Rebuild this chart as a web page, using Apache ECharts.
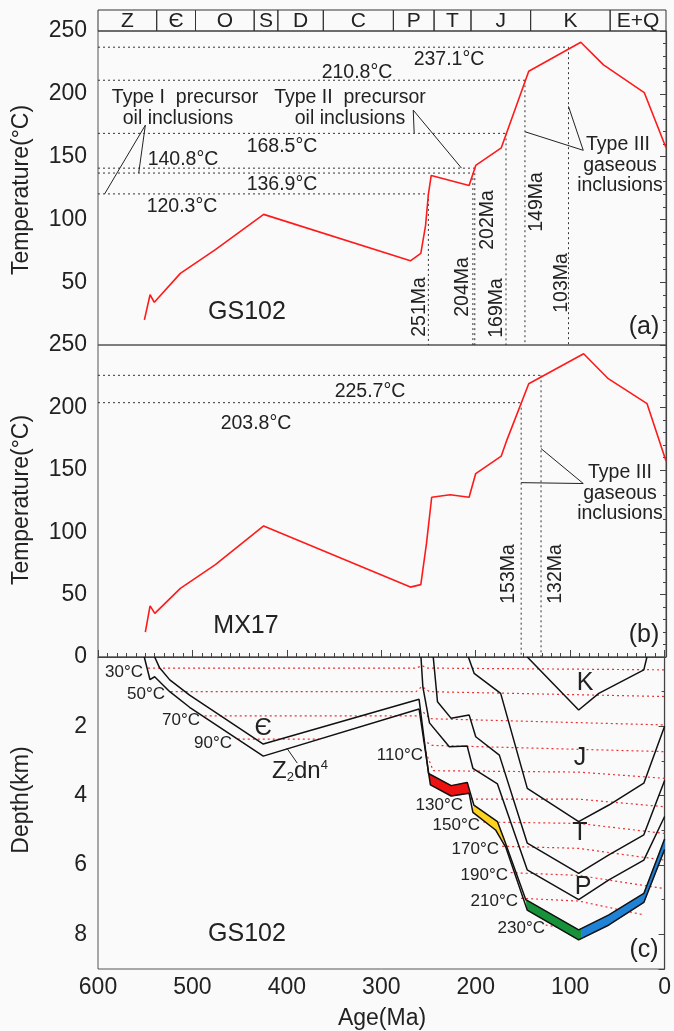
<!DOCTYPE html>
<html><head><meta charset="utf-8">
<script src="https://cdn.jsdelivr.net/npm/echarts@6/dist/echarts.min.js"></script>
<style>html,body{margin:0;padding:0;background:#fafafa}#c{width:674px;height:1031px}</style>
</head><body><div id="c"></div>
<script>
// ---------- DATA ----------
const periodBounds = [600, 538, 497, 435, 410, 362, 288, 245, 206, 143, 59, 0];
const periodNames = ['Z', 'Є', 'O', 'S', 'D', 'C', 'P', 'T', 'J', 'K', 'E+Q'];

// (a) GS102 thermal history
const ageA = [551, 545, 540.5, 513, 476, 425, 270, 259, 254, 251, 248, 208, 201, 174, 145, 90, 66, 23, 0];
const tempA = [20, 40, 34, 57, 76, 104, 67, 73, 95, 120, 135, 127, 143, 157, 218, 241, 223, 201, 157];
const refTempA = [120.3, 136.9, 140.8, 168.5, 210.8, 237.1];
const refAgeA = [251, 204, 202, 169, 149, 103];

// (b) MX17 thermal history
const ageB = [550, 545, 540, 513, 476, 425, 270, 259, 253, 247.5, 228, 208, 201, 174, 168, 145, 87, 61, 20, 0];
const tempB = [20, 41, 35, 55, 74, 105, 56, 58, 91, 128, 130, 128, 147, 161, 174, 219, 243, 223, 203, 157];
const refTempB = [203.8, 225.7];
const refAgeB = [153, 132];

// (c) GS102 burial history [age, depth km]
const bandTop = [[540,0],[535,0.3],[524,0.66],[503,1.1],[425,2.51],[260,1.22],[250,3.36],[226,3.71],[209,3.62],[202,4.27],[177,4.75],[170,5.26],[147,7.0],[91,7.87],[59,7.44],[22,6.82],[0,5.25]];
const bandBot = [[551,0],[545,0.65],[540,0.57],[524,1.0],[503,1.45],[425,2.86],[260,1.5],[248,3.69],[226,4.01],[207,3.93],[203,4.48],[179,4.99],[168,5.5],[145.5,7.3],[91,8.16],[59,7.73],[22,7.08],[0,5.55]];
const pBase = [[258,0],[256,0.86],[249,1.9],[228,2.59],[209,2.57],[203,3.21],[177,3.66],[145.5,6.14],[91,7.0],[59,6.43],[22,5.86],[0,4.6]];
const tBase = [[245,0],[240.5,1.29],[226,1.77],[207,1.67],[200,2.3],[175,2.83],[145.4,5.37],[91,6.24],[59,5.71],[22,5.13],[0,3.56]];
const jBase = [[207.8,0],[201.7,0.47],[173.6,1.05],[145.4,3.79],[91,4.75],[59,4.27],[22,3.64],[0,2.0]];
const kBase = [[145.4,0],[91,1.53],[69.7,1.05],[22,0.37],[18.7,0]];
const redFill = [[250,3.36],[226,3.71],[208.8,3.62],[206.5,3.93],[226,4.01],[247.5,3.69]];
const yellowFill = [[201.7,4.27],[177,4.75],[169,5.3],[167.5,5.42],[179,4.99],[203.5,4.46]];
const greenFill = [[147,7.0],[91,7.87],[88,7.83],[88,8.12],[91,8.16],[145.5,7.3]];
const blueFill = [[88,7.83],[59,7.44],[22,6.82],[0,5.25],[0,5.55],[22,7.08],[59,7.73],[88,8.12]];
const isotherms = {
  30: [[547,0.32],[263,0.32],[257,0.25],[251,0.32],[0,0.37]],
  50: [[523,1.0],[263,1.0],[257,0.85],[249,1.0],[0,1.14]],
  70: [[487,1.7],[263,1.7],[256,1.58],[248,1.78],[0,1.96]],
  '90a': [[452,2.37],[366,2.37]],
  90: [[256,2.4],[246,2.55],[0,2.73]],
  110: [[253,2.74],[245,3.28],[91,3.32],[0,3.5]],
  130: [[205,4.1],[91,4.1],[0,4.32]],
  150: [[192,4.76],[91,4.8],[0,5.09]],
  170: [[172,5.46],[91,5.52],[0,5.86]],
  190: [[163,6.22],[91,6.3],[3,6.67]],
  210: [[152,6.96],[91,7.04],[22,7.44]],
  230: [[126,7.73],[84,7.93]]
};
// leader lines [age, value]
const leaderTypeI = [[[550,175],[593,120.3]],[[550,175],[557,136.9]]];
const leaderTypeII = [[[267,187],[266,168.5]],[[267,187],[216,140.8]]];
const leaderTypeIIIa = [[[87.4,155],[103,190]],[[87.4,155],[149,169.8]]];
const leaderTypeIIIb = [[[87.4,139],[132,167]],[[87.4,139],[153,139.7]]];
const leaderZ = [[400,2.63],[389,3.06]];

// ---------- CHART ----------
const FONT = 'Liberation Sans, Arial, Helvetica, sans-serif';
const chart = echarts.init(document.getElementById('c'), null, {renderer: 'canvas'});
const series = [];
function line(data, gi, color, width, type, z) {
  series.push({type: 'line', xAxisIndex: gi, yAxisIndex: gi, data: data, symbol: 'none', showSymbol: false,
    silent: true, animation: false, z: z || 2, clip: false,
    lineStyle: {color: color, width: width, type: type || 'solid'}});
}
function poly(pts, gi, color) {
  series.push({type: 'custom', xAxisIndex: gi, yAxisIndex: gi, data: [[0, 0]], silent: true, animation: false, z: 3,
    renderItem: function (params, api) {
      return {type: 'polygon', shape: {points: pts.map(function (p) { return api.coord(p); })},
        style: {fill: color, stroke: color, lineWidth: 0.5}};
    }});
}
// header
series.push({type: 'custom', xAxisIndex: 0, yAxisIndex: 0, silent: true, animation: false,
  data: periodNames.map(function (n, i) { return [periodBounds[i], periodBounds[i + 1]]; }),
  renderItem: function (params, api) {
    const p0 = api.coord([api.value(0), 1]);
    const p1 = api.coord([api.value(1), 0]);
    return {type: 'group', children: [
      {type: 'rect', shape: {x: p0[0], y: p0[1], width: p1[0] - p0[0], height: p1[1] - p0[1]},
        style: {fill: 'none', stroke: '#333', lineWidth: 1}},
      {type: 'text', style: {text: periodNames[params.dataIndex], x: (p0[0] + p1[0]) / 2, y: (p0[1] + p1[1]) / 2 + 1,
        textAlign: 'center', textVerticalAlign: 'middle', font: '21px ' + FONT, fill: '#222'}}
    ]};
  }});

// (a)
line(ageA.map(function (a, i) { return [a, tempA[i]]; }), 1, '#ff1a1a', 1.6, 'solid', 5);
refTempA.forEach(function (t, i) {
  line([[600, t], [refAgeA[i], t]], 1, '#333', 1, [2, 3]);
  line([[refAgeA[i], t], [refAgeA[i], 0]], 1, '#333', 1, [2, 3]);
});
leaderTypeI.concat(leaderTypeII, leaderTypeIIIa).forEach(function (l) { line(l, 1, '#222', 1); });
// (b)
line(ageB.map(function (a, i) { return [a, tempB[i]]; }), 2, '#ff1a1a', 1.6, 'solid', 5);
refTempB.forEach(function (t, i) {
  line([[600, t], [refAgeB[i], t]], 2, '#333', 1, [2, 3]);
  line([[refAgeB[i], t], [refAgeB[i], 0]], 2, '#333', 1, [2, 3]);
});
leaderTypeIIIb.forEach(function (l) { line(l, 2, '#222', 1); });
// (c)
Object.keys(isotherms).forEach(function (k) { line(isotherms[k], 3, '#ee3030', 1.2, [2, 3], 1); });
poly(redFill, 3, '#ee1111');
poly(yellowFill, 3, '#ffd21f');
poly(greenFill, 3, '#17923a');
poly(blueFill, 3, '#1f82d6');
[bandTop, bandBot, pBase, tBase, jBase, kBase].forEach(function (d) { line(d, 3, '#111', 1.5, 'solid', 6); });
line(leaderZ, 3, '#222', 1);

function xAx(gi, show) {
  return {type: 'value', gridIndex: gi, min: 0, max: 600, inverse: true, show: show, interval: 100,
    axisLine: {show: true, lineStyle: {color: '#444', width: 1.2}},
    axisTick: {show: true, inside: true, length: 7, lineStyle: {color: '#444'}},
    minorTick: {show: true, splitNumber: 10, length: 4, lineStyle: {color: '#444'}},
    axisLabel: {fontSize: 23, color: '#222', fontFamily: FONT, margin: 7},
    splitLine: {show: false}};
}
function yAx(gi, max, interval, inverse, minorSplit) {
  return {type: 'value', gridIndex: gi, min: 0, max: max, interval: interval, inverse: inverse,
    axisLine: {show: true, lineStyle: {color: '#444', width: 1.2}},
    axisTick: {show: true, inside: false, length: 6, lineStyle: {color: '#444'}},
    minorTick: {show: true, splitNumber: minorSplit, length: 3, lineStyle: {color: '#444'}},
    axisLabel: {fontSize: 23, color: '#222', fontFamily: FONT, margin: 11,
      formatter: function (v) { if (!inverse && v === 0) return ''; if (inverse && v > 8) return ''; return String(v); }},
    splitLine: {show: false}};
}

function txt(t, x, y, size, opts) {
  opts = opts || {};
  return {type: 'text', x: x, y: y, rotation: opts.rot || 0, silent: true, z: 10,
    style: {text: t, x: 0, y: 0, textAlign: opts.align || 'center', textVerticalAlign: 'middle',
      font: (size || 19.5) + 'px ' + FONT, fill: '#222', rich: opts.rich}};
}
const R = Math.PI / 2;
const graphics = [
  txt('Temperature(°C)', 22, 190, 23, {rot: R}),
  txt('Temperature(°C)', 22, 500, 23, {rot: R}),
  txt('Depth(km)', 22, 800, 23, {rot: R}),
  txt('Age(Ma)', 382, 1019, 23),
  // (a)
  txt('237.1°C', 449, 60), txt('210.8°C', 357, 73),
  txt('Type I  precursor', 185, 98), txt('oil inclusions', 178, 119),
  txt('Type II  precursor', 350, 98), txt('oil inclusions', 350, 119),
  txt('168.5°C', 282, 147), txt('140.8°C', 183, 160), txt('136.9°C', 282, 185), txt('120.3°C', 182, 207),
  txt('Type III', 618, 145), txt('gaseous', 620, 166), txt('inclusions', 620, 186),
  txt('251Ma', 420, 307, 19.5, {rot: R}), txt('204Ma', 463, 287, 19.5, {rot: R}), txt('202Ma', 488, 220, 19.5, {rot: R}),
  txt('169Ma', 497, 308, 19.5, {rot: R}), txt('149Ma', 537, 202, 19.5, {rot: R}), txt('103Ma', 562, 283, 19.5, {rot: R}),
  txt('GS102', 247, 312, 25), txt('(a)', 644, 327, 25),
  // (b)
  txt('225.7°C', 370, 392), txt('203.8°C', 256, 424),
  txt('Type III', 620, 473), txt('gaseous', 620, 494), txt('inclusions', 620, 514),
  txt('153Ma', 509, 574, 19.5, {rot: R}), txt('132Ma', 556, 574, 19.5, {rot: R}),
  txt('MX17', 246, 626, 25), txt('(b)', 644, 635, 25),
  // (c)
  txt('30°C', 143, 672, 17, {align: 'right'}), txt('50°C', 165, 694, 17, {align: 'right'}),
  txt('70°C', 200, 720, 17, {align: 'right'}), txt('90°C', 232, 743, 17, {align: 'right'}),
  txt('110°C', 423, 755, 17, {align: 'right'}), txt('130°C', 463, 805, 17, {align: 'right'}),
  txt('150°C', 480, 825, 17, {align: 'right'}), txt('170°C', 499, 849, 17, {align: 'right'}),
  txt('190°C', 508, 875, 17, {align: 'right'}), txt('210°C', 518, 901, 17, {align: 'right'}),
  txt('230°C', 545, 928, 17, {align: 'right'}),
  txt('Є', 263, 728, 24), txt('K', 585, 683, 25), txt('J', 580, 758, 25), txt('T', 580, 833, 25), txt('P', 583, 887, 25),
  txt('{a|Z}{b|2}{a|dn}{c|4}', 300, 771, 24, {rich: {
    a: {fontSize: 24, fontFamily: FONT, fill: '#222', color: '#222'},
    b: {fontSize: 13, fontFamily: FONT, fill: '#222', color: '#222', padding: [12, 0, 0, 0]},
    c: {fontSize: 13, fontFamily: FONT, fill: '#222', color: '#222', padding: [0, 0, 12, 0]}}}),
  txt('GS102', 247, 934, 25), txt('(c)', 644, 950, 25)
];

chart.setOption({
  animation: false,
  backgroundColor: '#fafafa',
  grid: [
    {left: 98, right: 8, top: 10, height: 21},
    {left: 98, right: 8, top: 31, height: 314, show: true, borderColor: '#555', borderWidth: 1, backgroundColor: 'transparent'},
    {left: 98, right: 8, top: 345, height: 312, show: true, borderColor: '#555', borderWidth: 1, backgroundColor: 'transparent'},
    {left: 98, right: 8, top: 657, height: 312, show: true, borderColor: '#555', borderWidth: 1, backgroundColor: 'transparent'}
  ],
  xAxis: [xAx(0, false), xAx(1, false), xAx(2, false), xAx(3, true)],
  yAxis: [
    {type: 'value', gridIndex: 0, min: 0, max: 1, show: false},
    yAx(1, 250, 50, false, 5), yAx(2, 250, 50, false, 5), yAx(3, 9, 2, true, 2)
  ],
  series: series,
  graphic: graphics
});
</script></body></html>
